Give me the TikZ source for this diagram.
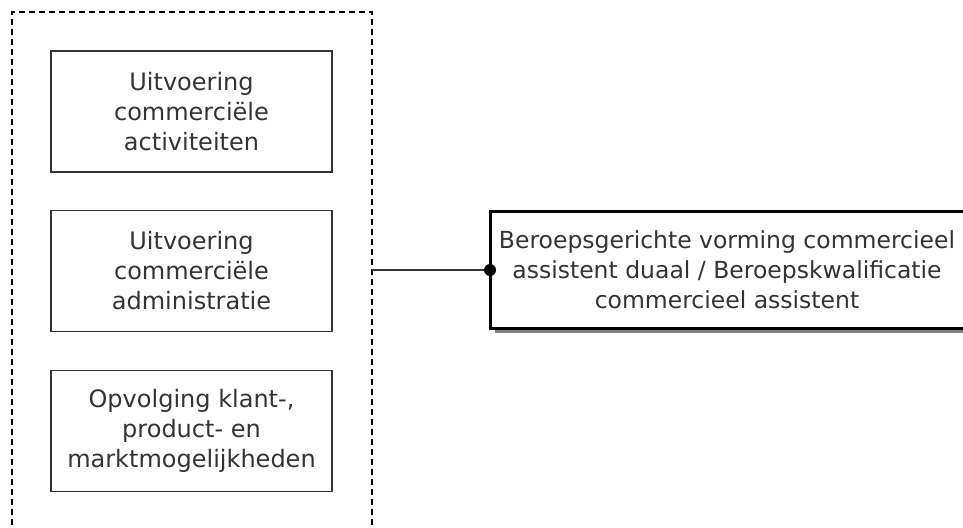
\documentclass[tikz,border=0pt]{standalone}
\usepackage{fontspec}
\setmainfont{DejaVu Sans}
\usetikzlibrary{shadows}
\definecolor{txt}{HTML}{333333}
\tikzset{
  actbox/.style={draw=black!80, line width=1.6pt, minimum width=281pt, minimum height=121pt, align=center, text=txt, font=\fontsize{24}{30}\selectfont, inner sep=0pt},
  mainbox/.style={draw=black, fill=white, line width=3pt, drop shadow={shadow xshift=5pt, shadow yshift=-5pt, fill=black!50, opacity=1}},
  maintext/.style={align=center, text=txt, font=\fontsize{23.5}{30}\selectfont, inner sep=0pt},
  grp/.style={draw=black, line width=1.1pt, dash pattern=on 6pt off 4pt}
}
\begin{document}
\begin{tikzpicture}[x=1pt,y=-1pt]
\useasboundingbox (0,0) rectangle (963,527);
\draw[grp] (12,545) -- (12,12) -- (372,12) -- (372,545);
\coordinate (grpR) at (372,270);
\node[actbox] (a1) at (191.5,111.5) {Uitvoering\\commerciële\\activiteiten};
\node[actbox] (a2) at (191.5,271) {Uitvoering\\commerciële\\administratie};
\node[actbox] (a3) at (191.5,431) {Opvolging klant-,\\product- en\\marktmogelijkheden};
\path[mainbox] (490,211) rectangle (985,328);
\node[maintext] (m) at (727,270) {Beroepsgerichte vorming commercieel\\assistent duaal / Beroepskwalificatie\\commercieel assistent};
\coordinate (mL) at (490,270);
\draw[line width=1.4pt, black!80] (grpR) -- (mL);
\fill (mL) circle (6pt);
\end{tikzpicture}
\end{document}
